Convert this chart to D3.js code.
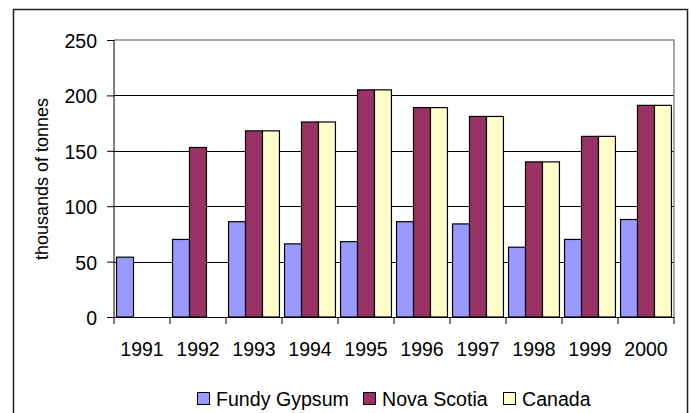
<!DOCTYPE html>
<html>
<head>
<meta charset="utf-8">
<script src="https://cdn.jsdelivr.net/npm/d3@7"></script>
<style>
  body { margin: 0; background: #fff; }
  svg { display: block; font-family: 'Liberation Sans', Arial, sans-serif; }
</style>
</head>
<body>
<script>
const years = ['1991', '1992', '1993', '1994', '1995', '1996', '1997', '1998', '1999', '2000'];
const seriesNames = ['Fundy Gypsum', 'Nova Scotia', 'Canada'];
const fundyGypsum = [54, 70, 86, 66, 68, 86, 84, 63, 70, 88];
const novaScotia = [null, 153, 168, 176, 205, 189, 181, 140, 163, 191];
const canada = [null, null, 168, 176, 205, 189, 181, 140, 163, 191];
const yTicks = [0, 50, 100, 150, 200, 250];
const colors = ['#9999ff', '#993366', '#ffffcc'];

const w = 691;
const h = 413;
const plot = { left: 114, right: 674, top: 40, bottom: 317 };

const svg = d3.select('body').append('svg').attr('width', w).attr('height', h);

// outer chart frame (bottom edge falls outside the picture)
svg.append('rect')
  .attr('x', 13.5).attr('y', 9.5)
  .attr('width', 674).attr('height', 420)
  .attr('fill', 'none').attr('stroke', '#222').attr('stroke-width', 1.5);

const x = d3.scaleBand().domain(years).range([plot.left, plot.right]).padding(0);
const x1 = d3.scaleBand().domain(seriesNames).range([0, x.bandwidth()])
  .paddingInner(0).paddingOuter(0.15);
const y = d3.scaleLinear().domain([0, 250]).range([plot.bottom, plot.top]);

// gridlines
svg.append('g')
  .selectAll('line')
  .data(yTicks.filter((d) => d > 0 && d < 250))
  .enter()
  .append('line')
  .attr('x1', plot.left).attr('x2', plot.right)
  .attr('y1', (d) => Math.round(y(d)) + 0.5).attr('y2', (d) => Math.round(y(d)) + 0.5)
  .attr('stroke', '#000');

// plot area border top/right (grey)
svg.append('path')
  .attr('d', `M${plot.left},${y(250)}H${plot.right}V${plot.bottom}`)
  .attr('fill', 'none').attr('stroke', '#8c8c8c').attr('stroke-width', 1.5);

const data = seriesNames.map((name, i) => ({
  name,
  values: [fundyGypsum, novaScotia, canada][i],
  color: colors[i],
}));

data.forEach((s) => {
  svg.append('g')
    .selectAll('rect')
    .data(years.map((yr, j) => ({ yr, v: s.values[j] })).filter((d) => d.v != null))
    .enter()
    .append('rect')
    .attr('x', (d) => x(d.yr) + x1(s.name))
    .attr('y', (d) => y(d.v))
    .attr('width', x1.bandwidth())
    .attr('height', (d) => y(0) - y(d.v))
    .attr('fill', s.color)
    .attr('stroke', '#000')
    .attr('stroke-width', 1.2);
});

// y axis
const yAxis = d3.axisLeft(y).tickValues(yTicks).tickSize(7).tickPadding(10);
const gy = svg.append('g')
  .attr('transform', `translate(${plot.left},0)`)
  .call(yAxis);
gy.select('.domain').attr('stroke', '#000').attr('d', `M0,${y(250)}V${plot.bottom}`);
gy.selectAll('.tick line').attr('stroke', '#000');
gy.selectAll('.tick text')
  .attr('font-size', 19.5).attr('font-family', null)
  .attr('fill', '#000').attr('dy', '0.38em');

// x axis
const xBoundaries = years.map((d) => x(d)).concat([plot.right]);
const gx = svg.append('g').attr('transform', `translate(0,${plot.bottom})`);
gx.append('line')
  .attr('x1', plot.left).attr('x2', plot.right)
  .attr('y1', 0.5).attr('y2', 0.5)
  .attr('stroke', '#000').attr('stroke-width', 1.2);
gx.selectAll('.xt')
  .data(xBoundaries)
  .enter()
  .append('line')
  .attr('x1', (d) => d).attr('x2', (d) => d)
  .attr('y1', 0).attr('y2', 7)
  .attr('stroke', '#000');
gx.selectAll('text')
  .data(years)
  .enter()
  .append('text')
  .attr('x', (d) => x(d) + x.bandwidth() / 2)
  .attr('y', 39)
  .attr('text-anchor', 'middle')
  .attr('font-size', 19.5)
  .text((d) => d);

// y axis title
svg.append('text')
  .attr('transform', `translate(48,179) rotate(-90)`)
  .attr('text-anchor', 'middle')
  .attr('font-size', 18)
  .text('thousands of tonnes');

// legend
const legendX = [197, 363, 503];
const legend = svg.append('g').attr('transform', 'translate(0,392)');
data.forEach((s, i) => {
  legend.append('rect')
    .attr('x', legendX[i] + 0.5).attr('y', 0.5)
    .attr('width', 12).attr('height', 12)
    .attr('fill', s.color).attr('stroke', '#000');
  legend.append('text')
    .attr('x', legendX[i] + 19)
    .attr('y', 14)
    .attr('font-size', 19.6)
    .text(s.name);
});
</script>
</body>
</html>
